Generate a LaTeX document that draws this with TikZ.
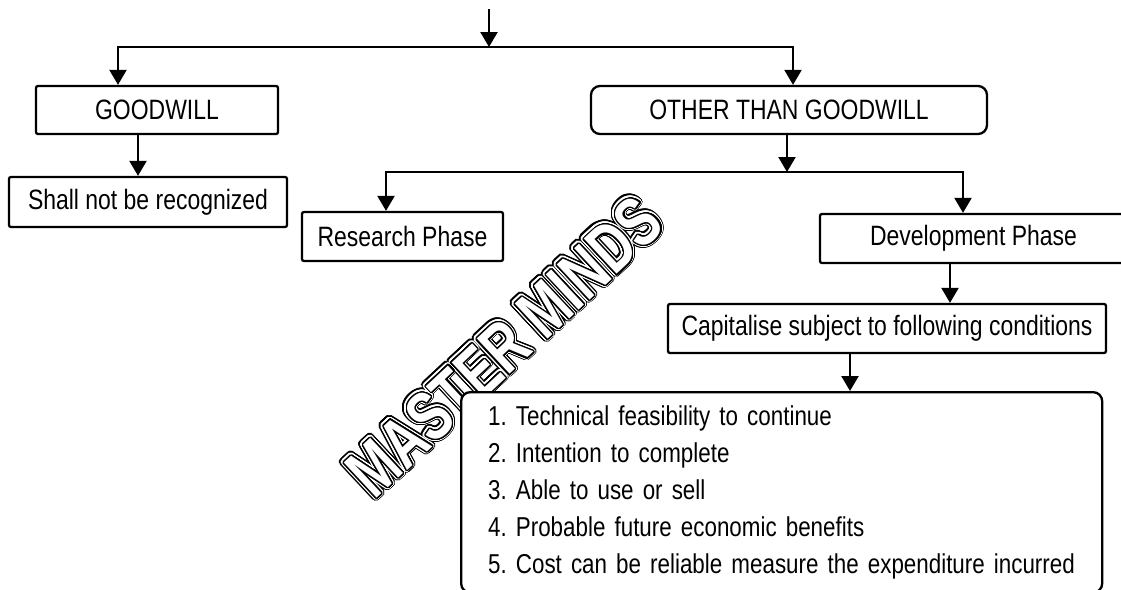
\documentclass[tikz,border=0pt]{standalone}
\usepackage{fontspec}
\setmainfont{Liberation Sans}[FakeStretch=0.82]
\newfontfamily\marcafont{Liberation Sans}[FakeStretch=0.74]
\usepackage{xcolor}
\usepackage[copies]{contour}
\contournumber{32}
\usepackage{tikz}
\usetikzlibrary{arrows.meta, positioning, calc}

\tikzset{
  caja/.style={draw, line width=2.3pt, rounded corners=2pt, fill=white,
    inner sep=0pt, font=\fontsize{28}{34}\selectfont},
  flecha/.style={line width=2.3pt, -{Triangle[length=15pt,width=17pt]}},
  marca/.style={rotate=43, inner sep=0pt, font=\fontsize{70}{70}\selectfont\marcafont\bfseries}
}

\begin{document}
\begin{tikzpicture}[x=1pt, y=-1pt]
    \useasboundingbox (0,0) rectangle (1121,589);

    % Marca de agua: texto hueco con doble contorno
    \node[marca] (marca1) at (505,347) {\contourlength{4pt}\contour{black}{\textcolor{white}{MASTER MINDS}}};
    \node[marca] (marca2) at (505,347) {\contourlength{2.6pt}\contour{white}{\textcolor{white}{MASTER MINDS}}};
    \node[marca] (marca3) at (505,347) {\contourlength{1.2pt}\contour{black}{\textcolor{white}{MASTER MINDS}}};

    % Primer nivel
    \coordinate (entrada) at (489,9);
    \coordinate (rama1) at (489,47);
    \node[caja, minimum width=242pt, minimum height=48pt] (goodwill) at (157,110) {GOODWILL};
    \node[caja, rounded corners=9pt, minimum width=396pt, minimum height=48pt] (otro) at (789,110) {OTHER THAN GOODWILL};
    \node[caja, minimum width=278pt, minimum height=50pt] (noreconoce) at (148,202) {Shall not be recognized};

    % Segundo nivel
    \coordinate (rama2) at (787,172);
    \node[caja, minimum width=201pt, minimum height=49pt] (investigacion) at (402.5,236.5) {Research Phase};
    \node[caja, minimum width=307pt, minimum height=49pt] (desarrollo) at (973.5,238.5) {Development Phase};
    \node[caja, minimum width=438pt, minimum height=49pt] (capitaliza) at (887,328.5) {Capitalise subject to following conditions};

    % Lista de condiciones (el borde inferior queda fuera de la imagen)
    \node[caja, rounded corners=9pt, anchor=north west, align=left, text width=587pt,
          inner xsep=27pt, inner ysep=13.5pt, font=\fontsize{27.3}{37}\selectfont] (condiciones) at (460,391) {%
        \mbox{1.\ Technical feasibility to continue}\\
        \mbox{2.\ Intention to complete}\\
        \mbox{3.\ Able to use or sell}\\
        \mbox{4.\ Probable future economic benefits}\\
        \mbox{5.\ Cost can be reliable measure the expenditure incurred}};

    % Flechas
    \draw[flecha] (entrada) -- (rama1);
    \draw[flecha] (rama1) -| ([xshift=-39pt]goodwill.north);
    \draw[flecha] (rama1) -| ([xshift=4pt]otro.north);
    \draw[flecha] ([xshift=-19pt]goodwill.south) -- ([xshift=-19pt]goodwill.south |- noreconoce.north);
    \draw[flecha] (otro.south -| rama2) -- (rama2);
    \draw[flecha] (rama2) -| ([xshift=-16.5pt]investigacion.north);
    \draw[flecha] (rama2) -| ([xshift=-10.5pt]desarrollo.north);
    \draw[flecha] ([xshift=-23.5pt]desarrollo.south) -- ([xshift=-23.5pt]desarrollo.south |- capitaliza.north);
    \draw[flecha] ([xshift=-37pt]capitaliza.south) -- ([xshift=-37pt]capitaliza.south |- condiciones.north);

\end{tikzpicture}
\end{document}
